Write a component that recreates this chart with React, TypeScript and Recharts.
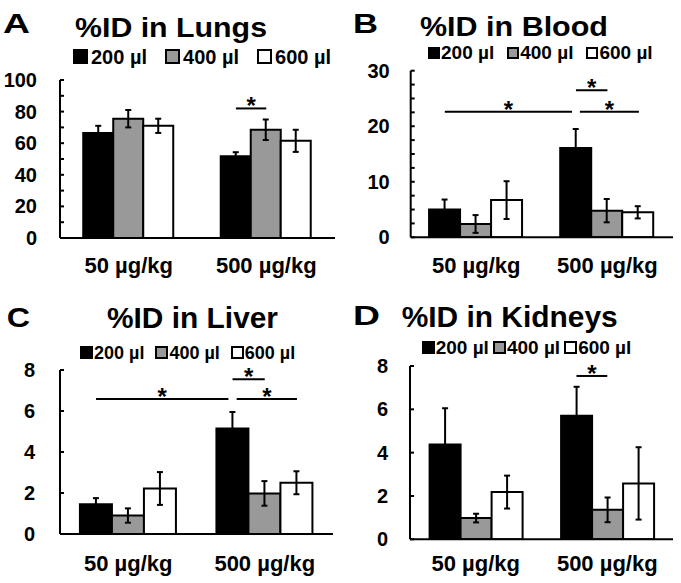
import React from 'react';
import { BarChart, Bar, XAxis, YAxis, ErrorBar, ReferenceLine, ReferenceDot, Legend } from 'recharts';

// ---------- data ----------
const doses = ['50 µg/kg', '500 µg/kg'];
const volumes = ['200 µl', '400 µl', '600 µl'];
const volumeFills = ['#000000', '#999999', '#ffffff'];

// values per dose: [200 µl, 400 µl, 600 µl]
const lungsMean = [[66.5, 75.5, 71], [51.8, 68.5, 61.5]];
const lungsErr = [[4.5, 5.5, 4.5], [2.5, 6.5, 7]];
const bloodMean = [[5.0, 2.4, 6.7], [16.1, 4.8, 4.5]];
const bloodErr = [[1.8, 1.6, 3.4], [3.4, 2.1, 1.1]];
const liverMean = [[1.45, 0.9, 2.22], [5.15, 1.98, 2.5]];
const liverErr = [[0.3, 0.35, 0.8], [0.8, 0.6, 0.56]];
const kidneysMean = [[4.38, 0.98, 2.18], [5.7, 1.36, 2.58]];
const kidneysErr = [[1.67, 0.2, 0.76], [1.34, 0.57, 1.67]];

const lungsTicks = [0, 10, 20, 30, 40, 50, 60, 70, 80, 90, 100];
const lungsTickLabels = [0, 20, 40, 60, 80, 100];
const bloodTicks = [0, 2.5, 5, 7.5, 10, 12.5, 15, 17.5, 20, 22.5, 25, 27.5, 30];
const bloodTickLabels = [0, 10, 20, 30];
const liverTicks = [0, 2, 4, 6, 8];
const liverTickLabels = [0, 2, 4, 6, 8];
const kidneysTicks = [0, 2, 4, 6, 8];
const kidneysTickLabels = [0, 2, 4, 6, 8];

// significance comparisons: from [dose, volume] to [dose, volume] at level y
const lungsSig = [{ from: [1, 0], to: [1, 1], y: 82 }];
const bloodSig = [
  { from: [0, 0], to: [1, 0], y: 22.6, trimEnd: true },
  { from: [1, 0], to: [1, 1], y: 26.5 },
  { from: [1, 0], to: [1, 2], y: 22.6, trimStart: true },
];
const liverSig = [
  { from: [0, 0], to: [1, 0], y: 6.59, trimEnd: true },
  { from: [1, 0], to: [1, 1], y: 7.55 },
  { from: [1, 0], to: [1, 2], y: 6.59, trimStart: true },
];
const kidneysSig = [{ from: [1, 0], to: [1, 1], y: 7.54 }];

// ---------- layout ----------
const FONT = '"Liberation Sans", Arial, Helvetica, sans-serif';

const panels = [
  {
    id: 'A', letter: 'A', title: '%ID in Lungs',
    mean: lungsMean, err: lungsErr, domain: [0, 100], ticks: lungsTicks, tickLabels: lungsTickLabels, sig: lungsSig,
    box: { left: 0, top: 0, w: 340, h: 290 }, plot: { x0: 60, x1: 335, y0: 80, y1: 238 }, gap: 0.169,
    labelGap: 23, xLabelOffset: 19,
    legend: { left: 73, cy: 56.5, fs: 20, sq: 15, sqGap: 3, itemGap: 18 },
    letterPos: { x: 3, y: 33.3, len: 27 }, titlePos: { x: 75, y: 36.7, len: 192, fs: 28 },
  },
  {
    id: 'B', letter: 'B', title: '%ID in Blood',
    mean: bloodMean, err: bloodErr, domain: [0, 30], ticks: bloodTicks, tickLabels: bloodTickLabels, sig: bloodSig,
    box: { left: 340, top: 0, w: 341, h: 290 }, plot: { x0: 410.7, x1: 673, y0: 70.7, y1: 237.3 }, gap: 0.14,
    labelGap: 21, xLabelOffset: 20,
    legend: { left: 428, cy: 52.5, fs: 19, sq: 12, sqGap: 1, itemGap: 13 },
    letterPos: { x: 353, y: 33.3, len: 25 }, titlePos: { x: 420, y: 36, len: 188, fs: 28 },
  },
  {
    id: 'C', letter: 'C', title: '%ID in Liver',
    mean: liverMean, err: liverErr, domain: [0, 8], ticks: liverTicks, tickLabels: liverTickLabels, sig: liverSig,
    box: { left: 0, top: 290, w: 340, h: 293 }, plot: { x0: 60, x1: 333, y0: 370, y1: 534 }, gap: 0.146,
    labelGap: 25, xLabelOffset: 21,
    legend: { left: 80, cy: 352.5, fs: 18, sq: 13, sqGap: 1, itemGap: 11 },
    letterPos: { x: 6.7, y: 326.7, len: 23.3 }, titlePos: { x: 107, y: 328.3, len: 171, fs: 29 },
  },
  {
    id: 'D', letter: 'D', title: '%ID in Kidneys',
    mean: kidneysMean, err: kidneysErr, domain: [0, 8], ticks: kidneysTicks, tickLabels: kidneysTickLabels, sig: kidneysSig,
    box: { left: 340, top: 290, w: 341, h: 293 }, plot: { x0: 410, x1: 673, y0: 366, y1: 539.3 }, gap: 0.149,
    labelGap: 22, xLabelOffset: 16,
    legend: { left: 421.7, cy: 347.5, fs: 19, sq: 13, sqGap: 1, itemGap: 4 },
    letterPos: { x: 353, y: 325, len: 27 }, titlePos: { x: 401.7, y: 326.7, len: 216, fs: 29 },
  },
];

const X_AXIS_H = 30;
const TRIM = 0.03;

function YTick(props: any) {
  const { x, y, payload, labels, labelGap } = props;
  const showLabel = labels.includes(payload.value);
  return (
    <g>
      <line x1={x} x2={x + 4} y1={y} y2={y} stroke="#000" strokeWidth={2} />
      {showLabel && (
        <text x={x - labelGap} y={y} textAnchor="end" dominantBaseline="central"
          fontFamily={FONT} fontWeight="bold" fontSize={20} fill="#000">
          {payload.value}
        </text>
      )}
    </g>
  );
}

function XTick(props: any) {
  const { x, y, payload } = props;
  return (
    <text x={x} y={y + 16} textAnchor="middle" fontFamily={FONT} fontWeight="bold" fontSize={22} fill="#000">
      {payload.value}
    </text>
  );
}

function LegendBox({ cfg }: any) {
  return (
    <div style={{ display: 'flex', alignItems: 'center', gap: cfg.itemGap, fontSize: cfg.fs, fontWeight: 'bold', lineHeight: 1, fontFamily: FONT, color: '#000', whiteSpace: 'nowrap' }}>
      {volumes.map((v, k) => (
        <div key={v} style={{ display: 'flex', alignItems: 'center' }}>
          <span style={{ display: 'inline-block', width: cfg.sq, height: cfg.sq, boxSizing: 'border-box', background: volumeFills[k], border: '2px solid #000', marginRight: cfg.sqGap }} />
          <span>{v}</span>
        </div>
      ))}
    </div>
  );
}

function Panel({ p }: any) {
  const { box, plot } = p;
  const data = doses.map((dose, i) => ({
    dose,
    v0: p.mean[i][0], v1: p.mean[i][1], v2: p.mean[i][2],
    e0: p.err[i][0], e1: p.err[i][1], e2: p.err[i][2],
  }));
  const margin = {
    left: 0,
    top: plot.y0 - box.top,
    right: box.left + box.w - plot.x1,
    bottom: box.top + box.h - plot.y1 - X_AXIS_H,
  };
  const yAxisW = plot.x0 - box.left;
  const g = p.gap;
  // position inside the category axis, in units of categories (0..2)
  const center = (d: number, v: number) => d + g + (1 - 2 * g) * (v + 0.5) / 3;
  return (
    <div style={{ position: 'absolute', left: box.left, top: box.top, width: box.w, height: box.h }}>
      <BarChart width={box.w} height={box.h} data={data} margin={margin} barGap={0} barCategoryGap={`${g * 100}%`}>
        <XAxis dataKey="dose" tickLine={false} tickSize={0} tickMargin={p.xLabelOffset} height={X_AXIS_H}
          axisLine={{ stroke: '#000', strokeWidth: 2 }} interval={0} tick={<XTick />} />
        <XAxis xAxisId="ann" dataKey="dose" type="number" scale="linear" domain={[0, doses.length]} allowDataOverflow hide />
        <YAxis type="number" domain={p.domain} ticks={p.ticks} interval={0} allowDataOverflow width={yAxisW}
          tickLine={false} tickSize={0} tickMargin={0} axisLine={{ stroke: '#000', strokeWidth: 2 }}
          tick={<YTick labels={p.tickLabels} labelGap={p.labelGap} />} />
        <Legend verticalAlign="middle" align="center" layout="horizontal"
          wrapperStyle={{ left: p.legend.left - box.left, top: p.legend.cy - box.top - p.legend.fs / 2, width: 'auto' }}
          content={() => <LegendBox cfg={p.legend} />} />
        {volumes.map((name, k) => (
          <Bar key={name} dataKey={`v${k}`} name={name} fill={volumeFills[k]} stroke="#000" strokeWidth={2} isAnimationActive={false}>
            <ErrorBar dataKey={`e${k}`} width={3} strokeWidth={2} stroke="#000" isAnimationActive={false} />
          </Bar>
        ))}
        {p.sig.map((s: any, i: number) => {
          const xa = center(s.from[0], s.from[1]) + (s.trimStart ? TRIM : 0);
          const xb = center(s.to[0], s.to[1]) - (s.trimEnd ? TRIM : 0);
          return (
            <ReferenceLine key={`l${i}`} xAxisId="ann" segment={[{ x: xa, y: s.y }, { x: xb, y: s.y }]}
              stroke="#000" strokeWidth={2} ifOverflow="visible" />
          );
        })}
        {p.sig.map((s: any, i: number) => {
          const xa = center(s.from[0], s.from[1]) + (s.trimStart ? TRIM : 0);
          const xb = center(s.to[0], s.to[1]) - (s.trimEnd ? TRIM : 0);
          return (
            <ReferenceDot key={`d${i}`} xAxisId="ann" x={(xa + xb) / 2} y={s.y} r={0} ifOverflow="visible"
              shape={(sp: any) => (
                <text x={sp.cx} y={sp.cy + 6} textAnchor="middle" fontFamily={FONT} fontWeight="bold" fontSize={24} fill="#000">*</text>
              )} />
          );
        })}
      </BarChart>
    </div>
  );
}

export default function App() {
  return (
    <div style={{ position: 'absolute', left: 0, top: 0, width: 681, height: 583, background: '#fff', fontFamily: FONT, overflow: 'hidden' }}>
      {panels.map((p) => <Panel key={p.id} p={p} />)}
      <svg width={681} height={583} style={{ position: 'absolute', left: 0, top: 0, pointerEvents: 'none' }}>
        {panels.map((p) => (
          <g key={p.id}>
            <text x={p.letterPos.x} y={p.letterPos.y} fontFamily={FONT} fontWeight="bold" fontSize={28}
              textLength={p.letterPos.len} lengthAdjust="spacingAndGlyphs" fill="#000">{p.letter}</text>
            <text x={p.titlePos.x} y={p.titlePos.y} fontFamily={FONT} fontWeight="bold" fontSize={p.titlePos.fs}
              textLength={p.titlePos.len} lengthAdjust="spacingAndGlyphs" fill="#000">{p.title}</text>
          </g>
        ))}
      </svg>
    </div>
  );
}
